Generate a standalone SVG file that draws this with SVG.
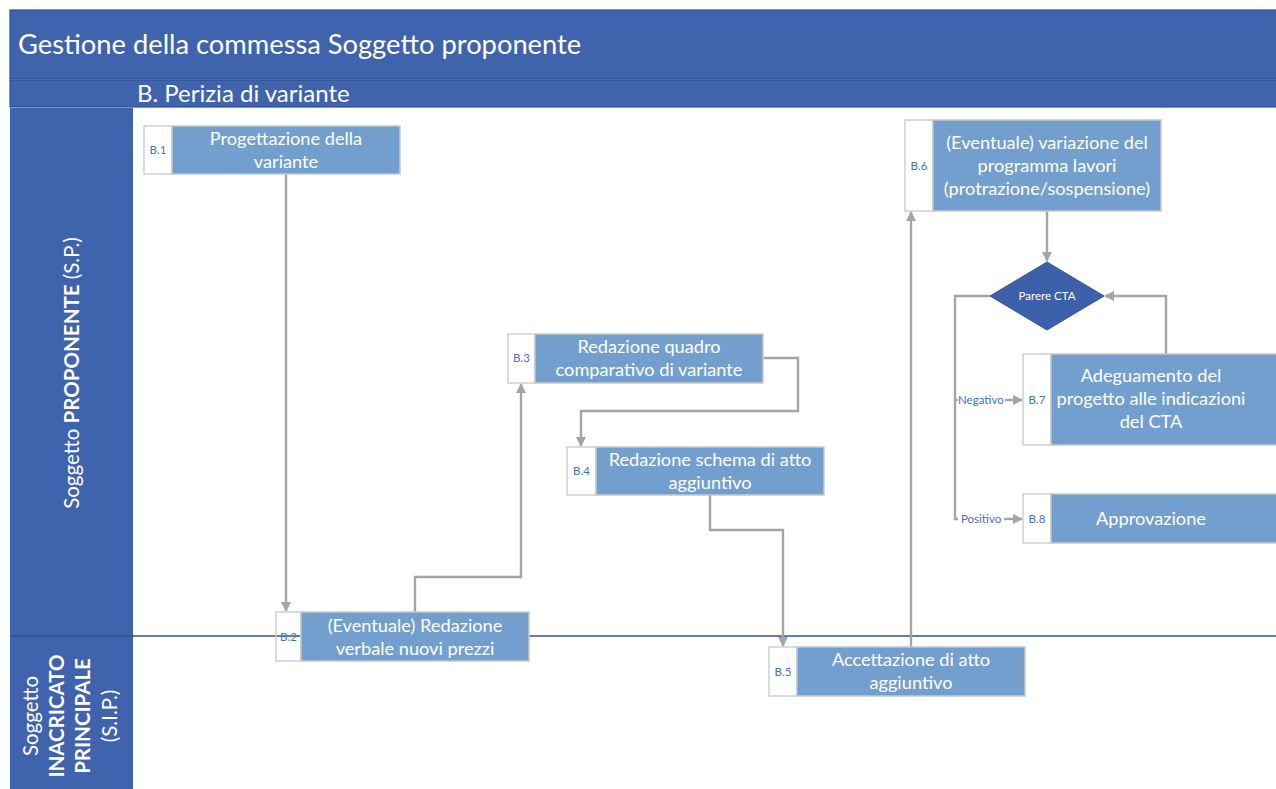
<svg xmlns="http://www.w3.org/2000/svg" width="1276" height="789" viewBox="0 0 1276 789">
  <style>
    .band { fill: #3f63ad; stroke: #2f528f; stroke-width: 1.2; }
    .hdr { fill: #ffffff; font-family: Lato, "Open Sans", sans-serif; }
    .lane { fill: #ffffff; font-family: Lato, "Open Sans", sans-serif; font-size: 20.5px; }
    .num { fill: none; stroke: #d0d0d0; stroke-width: 1.5; }
    .numt { fill: #4472c4; font-family: Lato, "Open Sans", sans-serif; font-size: 11.5px; text-anchor: middle; }
    .task { fill: #739fcf; stroke: #c8c8c8; stroke-width: 1.5; }
    .tt { fill: #ffffff; font-family: Lato, "Open Sans", sans-serif; font-size: 18.2px; text-anchor: middle; }
    .edge { fill: none; stroke: #a5a5a5; stroke-width: 2.4; }
    .elab { fill: #4472c4; font-family: Lato, "Open Sans", sans-serif; font-size: 11.5px; }
  </style>
  <defs>
    <marker id="arr" markerWidth="10" markerHeight="10" refX="9" refY="5" orient="auto" markerUnits="userSpaceOnUse" viewBox="0 0 10 10">
      <path d="M0,0 L10,5 L0,10 z" fill="#a5a5a5"/>
    </marker>
  </defs>

  <rect width="1276" height="789" fill="#ffffff"/>

  <!-- header bands -->
  <g id="header">
    <rect class="band" x="10" y="10" width="1270" height="69"/>
    <text class="hdr" x="18" y="54" font-size="27.3">Gestione della commessa Soggetto proponente</text>
    <rect class="band" x="10" y="80" width="1270" height="27"/>
    <text class="hdr" x="137" y="102" font-size="24">B. Perizia di variante</text>
  </g>

  <!-- swimlane labels -->
  <g id="lanes">
    <rect x="10" y="108" width="123" height="690" fill="#3f63ad"/>
    <line x1="10" y1="636" x2="133" y2="636" stroke="#2f528f" stroke-width="1.5"/>
    <line x1="133" y1="636" x2="1276" y2="636" stroke="#2f528f" stroke-width="1.5"/>
    <text class="lane" transform="translate(79,373) rotate(-90)" text-anchor="middle">Soggetto <tspan font-weight="bold">PROPONENTE</tspan> (S.P.)</text>
    <g transform="translate(0,716) rotate(-90)" text-anchor="middle">
      <text class="lane" x="0" y="38">Soggetto</text>
      <text class="lane" x="0" y="64" font-weight="bold">INACRICATO</text>
      <text class="lane" x="0" y="90" font-weight="bold">PRINCIPALE</text>
      <text class="lane" x="0" y="117">(S.I.P.)</text>
    </g>
  </g>

  <!-- connectors -->
  <g id="connectors">
    <path class="edge" d="M286,174 V611" marker-end="url(#arr)"/>
    <path class="edge" d="M415,612 V577 H521 V384" marker-end="url(#arr)"/>
    <path class="edge" d="M763,358 H798 V411 H581 V446" marker-end="url(#arr)"/>
    <path class="edge" d="M710,495 V530 H783 V646" marker-end="url(#arr)"/>
    <path class="edge" d="M911,647 V212" marker-end="url(#arr)"/>
    <path class="edge" d="M1047,211 V261" marker-end="url(#arr)"/>
    <path class="edge" d="M1166,354 V296 H1105" marker-end="url(#arr)"/>
    <path class="edge" d="M990,296 H955 V519 H958"/>
    <path class="edge" d="M955,400 H958"/>
    <path class="edge" d="M1005,400 H1022" marker-end="url(#arr)"/>
    <path class="edge" d="M1004,519 H1022" marker-end="url(#arr)"/>
    <text class="elab" x="958" y="404">Negativo</text>
    <text class="elab" x="961" y="523">Positivo</text>
  </g>

  <!-- activities -->
  <g id="B1">
    <rect class="num" x="144" y="126" width="28" height="48"/>
    <text class="numt" x="158" y="154">B.1</text>
    <rect class="task" x="172" y="126" width="228" height="48"/>
    <text class="tt" x="286" y="145">Progettazione della</text>
    <text class="tt" x="286" y="168">variante</text>
  </g>
  <g id="B2">
    <rect class="num" x="276" y="612" width="25" height="49"/>
    <text class="numt" x="288.5" y="641">B.2</text>
    <rect class="task" x="301" y="612" width="228" height="49"/>
    <text class="tt" x="415" y="632">(Eventuale) Redazione</text>
    <text class="tt" x="415" y="655">verbale nuovi prezzi</text>
  </g>
  <g id="B3">
    <rect class="num" x="508" y="334" width="27" height="49"/>
    <text class="numt" x="521.5" y="362">B.3</text>
    <rect class="task" x="535" y="334" width="228" height="49"/>
    <text class="tt" x="649" y="353">Redazione quadro</text>
    <text class="tt" x="649" y="376">comparativo di variante</text>
  </g>
  <g id="B4">
    <rect class="num" x="567" y="447" width="29" height="48"/>
    <text class="numt" x="581.5" y="475">B.4</text>
    <rect class="task" x="596" y="447" width="228" height="48"/>
    <text class="tt" x="710" y="466">Redazione schema di atto</text>
    <text class="tt" x="710" y="489">aggiuntivo</text>
  </g>
  <g id="B5">
    <rect class="num" x="769" y="647" width="28" height="49"/>
    <text class="numt" x="783" y="676">B.5</text>
    <rect class="task" x="797" y="647" width="228" height="49"/>
    <text class="tt" x="911" y="666">Accettazione di atto</text>
    <text class="tt" x="911" y="689">aggiuntivo</text>
  </g>
  <g id="B6">
    <rect class="num" x="905" y="120" width="28" height="91"/>
    <text class="numt" x="919" y="170">B.6</text>
    <rect class="task" x="933" y="120" width="228" height="91"/>
    <text class="tt" x="1047" y="149">(Eventuale) variazione del</text>
    <text class="tt" x="1047" y="172">programma lavori</text>
    <text class="tt" x="1047" y="195">(protrazione/sospensione)</text>
  </g>
  <g id="CTA">
    <path d="M1047,262 L1104,296 L1047,330 L990,296 z" fill="#3d60aa" stroke="#34559a" stroke-width="1"/>
    <text x="1047" y="300" fill="#ffffff" font-family="Lato, 'Open Sans', sans-serif" font-size="11.5" text-anchor="middle">Parere CTA</text>
  </g>
  <g id="B7">
    <rect class="num" x="1023" y="354" width="28" height="91"/>
    <text class="numt" x="1037" y="404">B.7</text>
    <rect class="task" x="1051" y="354" width="228" height="91"/>
    <text class="tt" x="1151" y="382">Adeguamento del</text>
    <text class="tt" x="1151" y="405">progetto alle indicazioni</text>
    <text class="tt" x="1151" y="428">del CTA</text>
  </g>
  <g id="B8">
    <rect class="num" x="1023" y="494" width="28" height="49"/>
    <text class="numt" x="1037" y="523">B.8</text>
    <rect class="task" x="1051" y="494" width="228" height="49"/>
    <text class="tt" x="1151" y="525">Approvazione</text>
  </g>
</svg>
